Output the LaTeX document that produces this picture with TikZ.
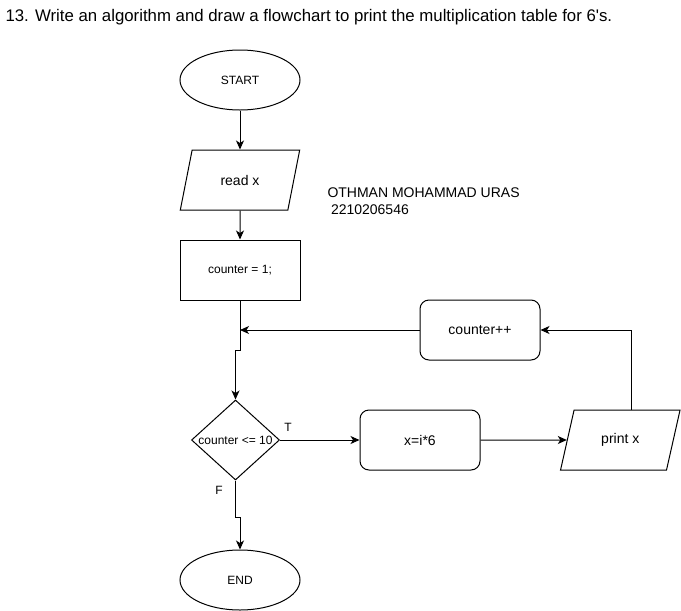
\documentclass[tikz,border=0pt]{standalone}
\usepackage{fontspec}
\setmainfont{Liberation Sans}
\usetikzlibrary{shapes.geometric,arrows.meta,positioning}
\begin{document}
\begin{tikzpicture}[
	x=1pt, y=-1pt, line width=1pt,
	% Define the looks shared by the flowchart blocks
	terminal/.style={draw, ellipse, minimum width=120pt, minimum height=60pt, font=\fontsize{12}{14}\selectfont},
	iobox/.style={draw, trapezium, trapezium left angle=71.6, trapezium right angle=108.4, trapezium stretches=true, minimum width=120pt, minimum height=60pt, font=\fontsize{14}{16}\selectfont},
	processbox/.style={draw, rectangle, minimum width=120pt, minimum height=60pt, font=\fontsize{12}{14}\selectfont},
	roundbox/.style={draw, rectangle, rounded corners=9pt, minimum width=120pt, minimum height=60pt, font=\fontsize{14}{16}\selectfont},
	decision/.style={draw, diamond, inner sep=0pt, minimum width=88pt, minimum height=80pt, font=\fontsize{12}{14}\selectfont},
	flowarrow/.style={-{Stealth[length=9pt,width=8pt,inset=2.5pt]}},
	branchlabel/.style={font=\fontsize{12}{14}\selectfont}
	]
	\useasboundingbox (0,0) rectangle (681,611);
	\node[anchor=west, inner sep=0pt, font=\fontsize{16.8}{20}\selectfont] (TitleText) at (5,17.5) {13. Write an algorithm and draw a flowchart to print the multiplication table for 6\textquotesingle s.};
	\node[anchor=north west, inner sep=0pt, align=left, font=\fontsize{14}{17}\selectfont] (AuthorText) at (327,187) {OTHMAN MOHAMMAD URAS\\\hspace{3.5pt}2210206546};
	\node[terminal] (StartNode) at (240,80) {START};
	\node[iobox] (ReadNode) at (240,180) {read x};
	\node[processbox] (CounterInit) at (240,270) {counter = 1;};
	\node[decision] (CounterTest) at (235.5,440) {\makebox[0pt]{counter <= 10}};
	\node[terminal] (EndNode) at (240,580) {END};
	\node[roundbox] (ProductNode) at (420,440) {x=i*6};
	\node[iobox] (PrintNode) at (620.3,440) {print x};
	\node[roundbox] (IncrementNode) at (480,330) {counter++};
	\coordinate (LoopJoin) at (CounterInit.south |- IncrementNode.west);
	\draw[flowarrow] (StartNode) -- (ReadNode);
	\draw[flowarrow] (ReadNode) -- (CounterInit);
	\draw[flowarrow] (CounterInit.south) -- ++(0,50) -| (CounterTest.north);
	\draw[flowarrow] (IncrementNode.west) -- (LoopJoin);
	\draw[flowarrow] (CounterTest.east) -- node[branchlabel, pos=0.1, above=5pt] {T} (ProductNode.west);
	\draw[flowarrow] (CounterTest.south) -- node[branchlabel, pos=0.27, left=9pt] {F} ++(0,37) -| (EndNode.north);
	\draw[flowarrow] (ProductNode.east) -- (PrintNode.west);
	\draw[flowarrow] ([xshift=11pt]PrintNode.north) |- (IncrementNode.east);
\end{tikzpicture}
\end{document}
